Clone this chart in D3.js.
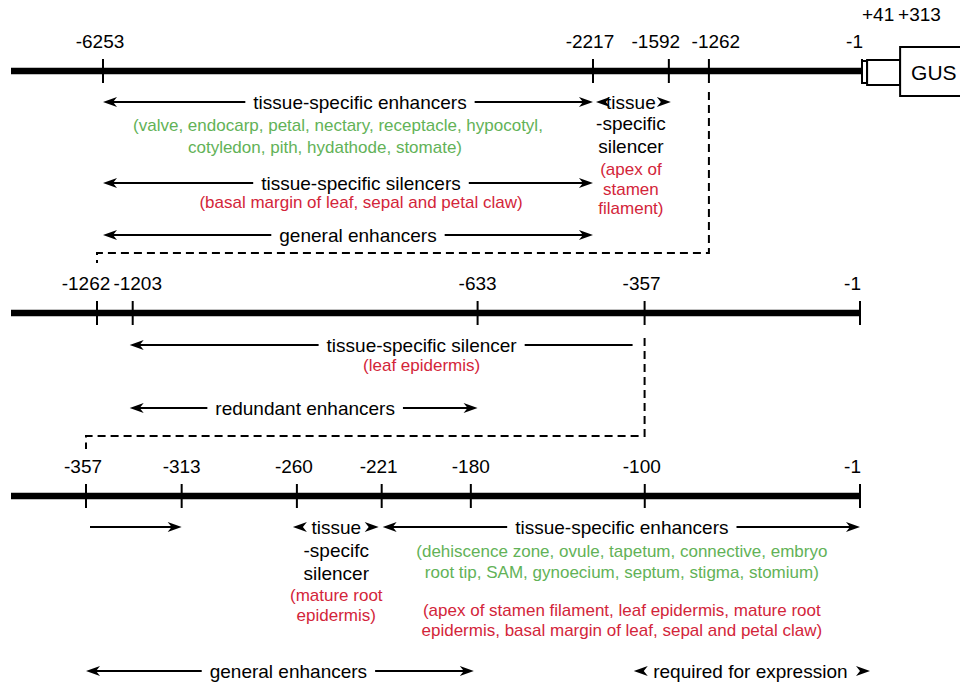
<html>
<head>
<script src="https://d3js.org/d3.v7.min.js"></script>
<title>Promoter deletion map</title>
<style>
body { margin: 0; padding: 0; background: #fff; }
text { font-family: "Liberation Sans", Arial, sans-serif; }
.lbl { font-size: 19px; fill: #000; }
.note { font-size: 17px; }
</style>
</head>
<body>
<svg id="chart" width="960" height="684"></svg>
<script>

// positions relative to transcription start (bp)
var row1Ticks = [-6253, -2217, -1592, -1262, -1];
var row2Ticks = [-1262, -1203, -633, -357, -1];
var row3Ticks = [-357, -313, -260, -221, -180, -100, -1];
var constructPos = [41, 313];
var constructLabels = ["+41", "+313"];

// [from, to, label]
var row1Regions = [
  [-6253, -2217, "tissue-specific enhancers"],
  [-2217, -1592, "tissue"],
  [-6253, -2217, "tissue-specific silencers"],
  [-6253, -2217, "general enhancers"]
];
var row2Regions = [
  [-1203, -357, "tissue-specific silencer"],
  [-1203, -633, "redundant enhancers"]
];
var row3Regions = [
  [-357, -313, ""],
  [-260, -221, "tissue"],
  [-221, -1, "tissue-specific enhancers"],
  [-357, -180, "general enhancers"],
  [-100, -1, "required for expression"]
];

var row1EnhancerTissues = ["(valve, endocarp, petal, nectary, receptacle, hypocotyl,", "cotyledon, pith, hydathode, stomate)"];
var row1SmallSilencerLabel = ["-specific", "silencer"];
var row1SmallSilencerTissues = ["(apex of", "stamen", "filament)"];
var row1SilencerTissues = ["(basal margin of leaf, sepal and petal claw)"];
var row2SilencerTissues = ["(leaf epidermis)"];
var row3SilencerLabel = ["-specifc", "silencer"];
var row3SilencerTissues = ["(mature root", "epidermis)"];
var row3EnhancerTissues = ["(dehiscence zone, ovule, tapetum, connective, embryo", "root tip, SAM, gynoecium, septum, stigma, stomium)"];
var row3RepressedTissues = ["(apex of stamen filament, leaf epidermis, mature root", "epidermis, basal margin of leaf, sepal and petal claw)"];

var GREEN = "#62b257", RED = "#d3253a";

var svg = d3.select("#chart");

function head(g, x, y, dir) {
  // stealth style arrow head, tip at x
  g.append("path")
    .attr("d", "M0,0 L-14,-5 L-10,0 L-14,5 Z")
    .attr("transform", "translate(" + x + "," + y + ") scale(" + dir + ",1)")
    .attr("fill", "#000");
}

function drawRow(ticks, y, range, nudge) {
  var x = d3.scaleLinear().domain([ticks[0], -1]).range(range);
  var g = svg.append("g");
  g.append("line")
    .attr("x1", 11).attr("x2", x(-1))
    .attr("y1", y).attr("y2", y)
    .attr("stroke", "#000").attr("stroke-width", 6.5);
  g.selectAll(".tick").data(ticks).enter().append("line")
    .attr("x1", function(d) { return x(d); }).attr("x2", function(d) { return x(d); })
    .attr("y1", y - 12).attr("y2", y + 12)
    .attr("stroke", "#000").attr("stroke-width", 2);
  g.selectAll(".tl").data(ticks).enter().append("text")
    .attr("class", "lbl")
    .attr("x", function(d) { return x(d) + (nudge[d] !== undefined ? nudge[d] : -3); })
    .attr("y", y - 23)
    .attr("text-anchor", function(d) { return d === -1 ? "end" : "middle"; })
    .text(function(d) { return d; });
  return x;
}

function drawRegion(x, r, o) {
  var g = svg.append("g");
  var left = x(r[0]) - (o.padL || 0), right = x(r[1]) + (o.padR || 0);
  var cx = (x(r[0]) + x(r[1])) / 2 + (o.dx || 0);
  var w = 0;
  if (r[2]) {
    var t = g.append("text").attr("class", "lbl")
      .attr("x", cx).attr("y", o.y + 7)
      .attr("text-anchor", "middle").text(r[2]);
    w = t.node().getComputedTextLength();
  }
  var hasL = o.heads === "both" || o.heads === "left";
  var hasR = o.heads === "both" || o.heads === "right";
  if (!o.compact) {
    var a = left + (hasL ? 8 : 0), b = right - (hasR ? 8 : 0);
    var segs = w ? [[a, cx - w / 2 - 8], [cx + w / 2 + 8, b]] : [[a, b]];
    segs.forEach(function(s) {
      g.append("line").attr("x1", s[0]).attr("x2", s[1])
        .attr("y1", o.y).attr("y2", o.y)
        .attr("stroke", "#000").attr("stroke-width", 2);
    });
  }
  if (hasL) head(g, left, o.y, -1);
  if (hasR) head(g, right, o.y, 1);
  (o.notes || []).forEach(function(n) {
    n.lines.forEach(function(line, i) {
      g.append("text")
        .attr("class", n.color === "#000" ? "lbl" : "note")
        .attr("x", cx + (n.dx ? n.dx[i] : 0))
        .attr("y", n.base[i])
        .attr("text-anchor", "middle")
        .attr("fill", n.color)
        .text(line);
    });
  });
}

function dashed(pts) {
  svg.append("path")
    .attr("d", d3.line()(pts))
    .attr("fill", "none").attr("stroke", "#000")
    .attr("stroke-width", 2).attr("stroke-dasharray", "8,5");
}

// ---- row 1 : full promoter with GUS construct
var x1 = drawRow(row1Ticks, 71, [103, 862], {"-1592": -13, "-1262": 7, "-1": 1});

svg.append("rect").attr("x", x1(-1)).attr("y", 61).attr("width", x1(constructPos[0]) - x1(-1)).attr("height", 22)
  .attr("fill", "#fff").attr("stroke", "#000").attr("stroke-width", 2);
svg.append("rect").attr("x", x1(constructPos[0])).attr("y", 60).attr("width", x1(constructPos[1]) - x1(constructPos[0])).attr("height", 25)
  .attr("fill", "#fff").attr("stroke", "#000").attr("stroke-width", 2);
svg.append("rect").attr("x", x1(constructPos[1])).attr("y", 47).attr("width", 80).attr("height", 49)
  .attr("fill", "#fff").attr("stroke", "#000").attr("stroke-width", 2);
svg.append("text").attr("class", "lbl").style("font-size", "21px")
  .attr("x", x1(constructPos[1]) + 11).attr("y", 80).text("GUS");
svg.selectAll(".cl").data(constructLabels).enter().append("text")
  .attr("class", "lbl")
  .attr("x", function(d, i) { return i === 0 ? x1(-1) : x1(constructPos[1]) - 2; })
  .attr("y", 21)
  .text(function(d) { return d; });

drawRegion(x1, row1Regions[0], {y: 102, heads: "both", dx: 12,
  notes: [{color: GREEN, lines: row1EnhancerTissues, base: [131, 153], dx: [-22, -35]}]});
drawRegion(x1, row1Regions[1], {y: 102, heads: "both", compact: true, padL: -3, padR: 2,
  notes: [{color: "#000", lines: row1SmallSilencerLabel, base: [130, 153]},
          {color: RED, lines: row1SmallSilencerTissues, base: [175, 195, 214]}]});
drawRegion(x1, row1Regions[2], {y: 183, heads: "both", dx: 13,
  notes: [{color: RED, lines: row1SilencerTissues, base: [208]}]});
drawRegion(x1, row1Regions[3], {y: 235, heads: "both", dx: 10});

// ---- row 2 : -1262 deletion
var x2 = drawRow(row2Ticks, 313, [97, 860], {"-1262": -11, "-1203": 5, "-633": 0, "-1": 1});
dashed([[x1(-1262), 92], [x1(-1262), 253], [x2(-1262), 253], [x2(-1262), 263]]);

drawRegion(x2, row2Regions[0], {y: 345, heads: "left", padL: 3, padR: -12, dx: 33,
  notes: [{color: RED, lines: row2SilencerTissues, base: [371]}]});
drawRegion(x2, row2Regions[1], {y: 408, heads: "both", padL: 3, dx: 0});

// ---- row 3 : -357 deletion
var x3 = drawRow(row3Ticks, 496, [86, 860], {"-313": 0, "-180": 0, "-1": 1});
dashed([[x2(-357), 338], [x2(-357), 436], [x3(-357), 436], [x3(-357), 449]]);

drawRegion(x3, row3Regions[0], {y: 527, heads: "right", padL: -4});
drawRegion(x3, row3Regions[1], {y: 527, heads: "both", compact: true, padL: 4, padR: -3, dx: -3,
  notes: [{color: "#000", lines: row3SilencerLabel, base: [557, 580]},
          {color: RED, lines: row3SilencerTissues, base: [601, 621]}]});
drawRegion(x3, row3Regions[2], {y: 527, heads: "both", padL: -1, dx: 1,
  notes: [{color: GREEN, lines: row3EnhancerTissues, base: [557, 578]},
          {color: RED, lines: row3RepressedTissues, base: [616, 636]}]});
drawRegion(x3, row3Regions[3], {y: 671, heads: "both", padR: 3, dx: 10});
drawRegion(x3, row3Regions[4], {y: 671, heads: "both", compact: true, padL: 11, padR: 10, dx: -2});

</script>
</body>
</html>
